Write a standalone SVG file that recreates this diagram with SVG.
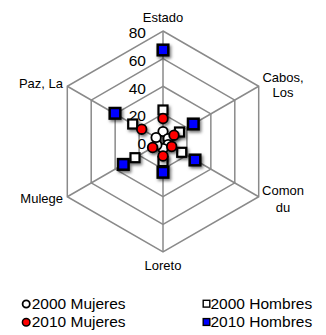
<svg xmlns="http://www.w3.org/2000/svg" width="326" height="335" viewBox="0 0 326 335">
<style>
.grid{fill:none;stroke:#8a8a8a;stroke-width:1.5}
.lbl{font-family:"Liberation Sans",Arial,sans-serif;font-size:13px;fill:#000}
.tick{font-family:"Liberation Sans",Arial,sans-serif;font-size:15.5px;fill:#000;text-anchor:end}
.leg{font-family:"Liberation Sans",Arial,sans-serif;font-size:15.5px;fill:#000}
.m00{fill:#fff;stroke:#000;stroke-width:1.8}
.m10{fill:#ff0000;stroke:#000;stroke-width:1.8}
.h00{fill:#fff;stroke:#000;stroke-width:2.2}
.h10{fill:#0000ff;stroke:#000;stroke-width:2.5}
</style>
<defs>
<filter id="sh" x="-50%" y="-50%" width="200%" height="200%">
<feDropShadow dx="1.5" dy="2" stdDeviation="1.5" flood-color="#000" flood-opacity="0.55"/>
</filter>
</defs>
<rect width="326" height="335" fill="#fff"/>
<g id="grid">
<polygon class="grid" points="163,31 258.7,86.25 258.7,196.75 163,252 67.3,196.75 67.3,86.25"/>
<polygon class="grid" points="163,58.6 234.8,100.1 234.8,182.9 163,224.4 91.2,182.9 91.2,100.1"/>
<polygon class="grid" points="163,86.25 210.85,113.9 210.85,169.1 163,196.75 115.15,169.1 115.15,113.9"/>
<polygon class="grid" points="163,113.9 186.9,127.7 186.9,155.3 163,169.1 139.1,155.3 139.1,127.7"/>
<path class="grid" d="M163,141.5L163,31M163,141.5L258.7,86.25M163,141.5L258.7,196.75M163,141.5L163,252M163,141.5L67.3,196.75M163,141.5L67.3,86.25"/>
</g>
<g id="ticks">
<text class="tick" x="146" y="38.3">80</text>
<text class="tick" x="146" y="66">60</text>
<text class="tick" x="146" y="93.8">40</text>
<text class="tick" x="146" y="121">20</text>
<text class="tick" x="146" y="148.5">0</text>
</g>
<g id="axis-estado"><text class="lbl" x="163" y="21.5" text-anchor="middle">Estado</text></g>
<g id="axis-cabos"><text class="lbl" x="283" y="81.5" text-anchor="middle">Cabos,</text><text class="lbl" x="283" y="97" text-anchor="middle">Los</text></g>
<g id="axis-comondu"><text class="lbl" x="283" y="195" text-anchor="middle">Comon</text><text class="lbl" x="283" y="211.5" text-anchor="middle">du</text></g>
<g id="axis-loreto"><text class="lbl" x="163" y="270" text-anchor="middle">Loreto</text></g>
<g id="axis-mulege"><text class="lbl" x="63" y="203" text-anchor="end">Mulege</text></g>
<g id="axis-paz"><text class="lbl" x="63" y="88" text-anchor="end">Paz, La</text></g>
<g id="series-2000-mujeres" filter="url(#sh)">
<circle class="m00" cx="163" cy="131.5" r="4.7"/>
<circle class="m00" cx="168.2" cy="138.5" r="4.7"/>
<circle class="m00" cx="168.2" cy="144.5" r="4.7"/>
<circle class="m00" cx="163" cy="148.5" r="4.7"/>
<circle class="m00" cx="156.9" cy="145" r="4.7"/>
<circle class="m00" cx="156.1" cy="137.5" r="4.7"/>
</g>
<g id="series-2000-hombres" filter="url(#sh)">
<rect class="h00" x="158.5" y="105.5" width="9" height="9"/>
<rect class="h00" x="175" y="127.5" width="9" height="9"/>
<rect class="h00" x="177.2" y="147.8" width="9" height="9"/>
<rect class="h00" x="158.5" y="157" width="9" height="9"/>
<rect class="h00" x="130.5" y="153.2" width="9" height="9"/>
<rect class="h00" x="128.2" y="119.5" width="9" height="9"/>
</g>
<g id="series-2010-mujeres" filter="url(#sh)">
<circle class="m10" cx="163" cy="118.5" r="4.8"/>
<circle class="m10" cx="174" cy="135.2" r="4.8"/>
<circle class="m10" cx="171.7" cy="146.5" r="4.8"/>
<circle class="m10" cx="163" cy="156" r="4.8"/>
<circle class="m10" cx="152.6" cy="147.5" r="4.8"/>
<circle class="m10" cx="141.7" cy="129.2" r="4.8"/>
</g>
<g id="series-2010-hombres" filter="url(#sh)">
<rect class="h10" x="157.7" y="44.7" width="10.6" height="10.6"/>
<rect class="h10" x="188" y="118.7" width="10.6" height="10.6"/>
<rect class="h10" x="189.7" y="154.7" width="10.6" height="10.6"/>
<rect class="h10" x="157.7" y="167" width="10.6" height="10.6"/>
<rect class="h10" x="118" y="159.1" width="10.6" height="10.6"/>
<rect class="h10" x="109.7" y="108" width="10.6" height="10.6"/>
</g>
<g id="legend">
<circle cx="26.2" cy="304" r="3.6" fill="#fff" stroke="#000" stroke-width="1.8"/>
<text class="leg" x="31.7" y="308.5">2000 Mujeres</text>
<circle cx="26.2" cy="322.3" r="3.8" fill="#ff0000" stroke="#000" stroke-width="1.5"/>
<text class="leg" x="31.7" y="327">2010 Mujeres</text>
<rect x="203.2" y="300.3" width="6.6" height="6.8" fill="#fff" stroke="#000" stroke-width="1.4"/>
<text class="leg" x="210.5" y="308.5">2000 Hombres</text>
<rect x="203.2" y="318.6" width="6.6" height="6.8" fill="#0000ff" stroke="#000" stroke-width="1.4"/>
<text class="leg" x="210.5" y="327">2010 Hombres</text>
</g>
</svg>
